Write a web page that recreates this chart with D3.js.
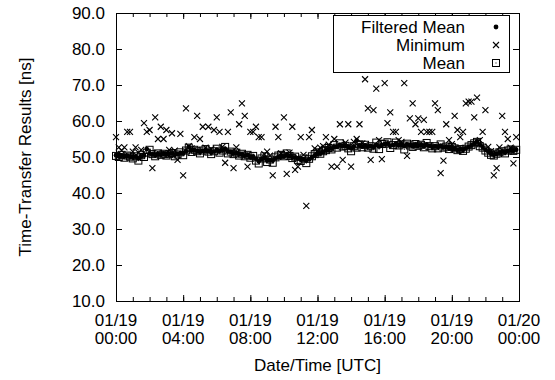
<!DOCTYPE html>
<html>
<head>
<meta charset="utf-8">
<script src="https://cdn.jsdelivr.net/npm/d3@7"></script>
<style>
  html, body { margin: 0; padding: 0; background: #fff; overflow: hidden; }
  svg { display: block; }
  text { font-family: "Liberation Sans", Arial, Helvetica, sans-serif; }
</style>
</head>
<body>
<div id="chart"></div>
<script>
// samples every 10 minutes over one UTC day (year isn't shown on the chart)
const startTime = "2014-01-19T00:00:00Z";
const stepMinutes = 10;

const filteredMean = [
  50.5, 50.3, 50.4, 50.2, 50.3, 50.1,  50.0, 50.1, 49.6, 50.2, 50.4, 52.2,
  51.0, 50.7, 50.5, 50.8, 50.7, 50.9,  50.7, 50.9, 51.0, 50.6, 50.8, 51.1,
  51.0, 51.6, 52.8, 51.8, 51.9, 51.7,  51.4, 51.7, 51.9, 51.6, 51.3, 51.5,
  52.0, 51.6, 51.8, 52.2, 51.5, 51.4,  51.0, 51.1, 50.8, 50.7, 50.4, 50.5,
  50.0, 50.1, 49.5, 48.8, 49.4, 49.8,  49.0, 49.2, 49.0, 49.6, 50.0, 50.3,
  50.2, 50.5, 50.2, 49.9, 49.9, 49.6,  49.3, 49.4, 49.0, 49.4, 49.9, 50.4,
  50.9, 51.0, 51.4, 51.8, 52.2, 52.3,  52.8, 52.8, 53.3, 53.0, 53.1, 52.8,
  52.4, 52.9, 54.6, 53.2, 52.9, 53.2,  52.9, 53.0, 52.8, 53.4, 52.9, 53.3,
  53.6, 53.8, 53.1, 53.3, 53.7, 53.3,  53.4, 53.1, 53.5, 53.3, 53.0, 53.4,
  53.2, 53.3, 53.0, 53.5, 53.1, 52.8,  53.0, 52.8, 53.1, 52.7, 52.8, 52.5,
  52.5, 52.3, 52.0, 52.1, 52.0, 52.4,  52.8, 53.2, 53.7, 54.3, 53.4, 52.8,
  52.0, 51.5, 50.9, 50.6, 50.9, 51.2,  51.5, 51.3, 51.7, 51.9, 51.8, 52.0
];

const minimum = [
  55.5, 52.7, 51.8, 52.7, 57.0, 57.0,  51.5, 52.7, 51.2, 52.0, 59.4, 57.0,
  57.5, 46.9, 61.0, 55.0, 58.4, 55.0,  57.5, 52.0, 56.6, 51.8, 49.2, 56.4,
  44.9, 63.5, 53.0, 52.4, 55.5, 61.4,  55.0, 58.4, 52.6, 58.4, 52.2, 57.5,
  61.0, 57.0, 52.8, 48.4, 57.0, 62.4,  46.9, 52.7, 59.1, 64.9, 61.4, 47.3,
  57.0, 57.0, 58.4, 55.5, 55.5, 50.8,  51.5, 50.4, 44.9, 58.4, 55.5, 51.0,
  61.0, 45.3, 51.2, 58.4, 46.4, 47.3,  55.5, 50.6, 36.4, 55.5, 57.5, 52.4,
  51.8, 52.6, 53.0, 55.5, 53.4, 47.3,  55.0, 47.3, 59.1, 49.2, 54.0, 59.1,
  47.3, 54.2, 55.0, 59.1, 53.8, 71.6,  63.5, 49.2, 63.0, 69.0, 54.7, 49.4,
  70.5, 59.4, 62.4, 57.0, 57.0, 54.7,  54.2, 70.5, 50.3, 60.7, 64.9, 59.1,
  60.7, 57.0, 60.3, 57.0, 57.0, 57.0,  64.9, 63.0, 45.5, 49.0, 59.1, 54.7,
  53.6, 61.4, 57.5, 55.5, 57.0, 64.9,  65.4, 65.4, 61.0, 66.5, 54.7, 57.0,
  63.0, 52.8, 51.6, 44.9, 46.9, 52.7,  61.4, 57.0, 55.0, 52.6, 48.2, 55.5
];

const mean = [
  50.3, 50.0, 50.6, 49.8, 50.4, 50.1,  49.6, 50.2, 49.0, 50.5, 50.0, 51.2,
  52.0, 50.8, 50.2, 51.0, 50.6, 50.9,  50.4, 50.8, 51.1, 50.2, 50.7, 51.3,
  50.5, 51.8, 52.6, 51.4, 52.0, 51.6,  51.0, 51.8, 52.2, 51.5, 50.8, 51.6,
  52.3, 51.2, 51.8, 52.8, 51.0, 51.5,  50.8, 51.2, 50.4, 50.9, 50.2, 50.6,
  49.8, 50.3, 49.0, 48.2, 49.6, 50.2,  48.6, 49.3, 48.4, 49.9, 50.4, 50.6,
  50.2, 51.0, 50.3, 49.7, 50.1, 49.2,  48.9, 49.6, 48.3, 49.5, 50.2, 50.8,
  51.3, 50.9, 51.6, 51.9, 52.5, 52.1,  53.3, 52.6, 53.8, 52.9, 53.1, 52.4,
  51.6, 53.0, 52.6, 53.5, 52.7, 53.4,  52.6, 53.0, 52.3, 54.0, 52.2, 53.6,
  53.7, 54.1, 52.5, 53.3, 54.0, 53.2,  53.5, 52.1, 53.7, 53.2, 52.8, 53.6,
  53.1, 53.4, 52.7, 53.9, 53.0, 52.4,  53.0, 52.4, 53.5, 52.6, 52.9, 52.2,
  52.8, 52.4, 51.9, 52.2, 51.7, 52.3,  52.9, 53.3, 53.8, 54.2, 53.0, 52.6,
  51.8, 51.2, 50.6, 50.4, 50.9, 51.3,  51.6, 51.0, 51.8, 52.1, 51.7, 52.0
];

const yTicks = [10, 20, 30, 40, 50, 60, 70, 80, 90];
const seriesNames = ["Filtered Mean", "Minimum", "Mean"];
const xLabel = "Date/Time [UTC]";
const yLabel = "Time-Transfer Results [ns]";

const width = 555, height = 380;
const margin = { top: 13, right: 36, bottom: 79, left: 116 };
const innerWidth = width - margin.left - margin.right;
const innerHeight = height - margin.top - margin.bottom;
const fontSize = 17;

const t0 = new Date(startTime);
const t1 = d3.utcDay.offset(t0, 1);
const times = mean.map((d, i) => d3.utcMinute.offset(t0, i * stepMinutes));

const svg = d3.select("#chart").append("svg")
  .attr("width", width)
  .attr("height", height);

const g = svg.append("g")
  .attr("transform", `translate(${margin.left},${margin.top})`);

const xScale = d3.scaleUtc().domain([t0, t1]).range([0, innerWidth]);
const yScale = d3.scaleLinear().domain([10, 90]).range([innerHeight, 0]);

// axes, gnuplot style: ticks pointing in, mirrored on all sides
const styleAxis = (sel, keepText) => {
  sel.attr("font-size", fontSize).attr("font-family", null);
  sel.select(".domain").remove();
  sel.selectAll(".tick line").attr("stroke", "#000");
  if (keepText) sel.selectAll(".tick text").attr("fill", "#000");
  else sel.selectAll(".tick text").remove();
};

g.append("g")
  .call(d3.axisLeft(yScale).tickValues(yTicks).tickSize(-6).tickPadding(11)
    .tickFormat(d3.format(".1f")))
  .call(styleAxis, true);

g.append("g")
  .attr("transform", `translate(${innerWidth},0)`)
  .call(d3.axisRight(yScale).tickValues(yTicks).tickSize(-6))
  .call(styleAxis, false);

g.append("g")
  .attr("transform", `translate(0,${innerHeight})`)
  .call(d3.axisBottom(xScale).ticks(d3.utcHour.every(1)).tickSize(-4))
  .call(styleAxis, false);

g.append("g")
  .call(d3.axisTop(xScale).ticks(d3.utcHour.every(1)).tickSize(-4))
  .call(styleAxis, false);

g.append("g")
  .call(d3.axisTop(xScale).ticks(d3.utcHour.every(4)).tickSize(-6))
  .call(styleAxis, false);

const xAxis = d3.axisBottom(xScale).ticks(d3.utcHour.every(4)).tickSize(-6);
g.append("g")
  .attr("transform", `translate(0,${innerHeight})`)
  .call(xAxis)
  .call(styleAxis, false);

// two-line date/time tick labels
const fmtDay = d3.utcFormat("%m/%d");
const fmtTime = d3.utcFormat("%H:%M");
const xTickValues = xScale.ticks(d3.utcHour.every(4));
const xLabels = g.append("g").attr("font-size", fontSize).attr("text-anchor", "middle");
xLabels.selectAll("text.day").data(xTickValues).enter().append("text")
  .attr("class", "day")
  .attr("x", d => xScale(d))
  .attr("y", innerHeight + 25)
  .text(fmtDay);
xLabels.selectAll("text.time").data(xTickValues).enter().append("text")
  .attr("class", "time")
  .attr("x", d => xScale(d))
  .attr("y", innerHeight + 43)
  .text(fmtTime);

g.append("rect")
  .attr("x", 0.5).attr("y", 0.5)
  .attr("width", innerWidth).attr("height", innerHeight)
  .attr("fill", "none").attr("stroke", "#000");

// axis titles
g.append("text")
  .attr("x", innerWidth / 2)
  .attr("y", innerHeight + 70)
  .attr("text-anchor", "middle")
  .attr("font-size", fontSize)
  .text(xLabel);

svg.append("text")
  .attr("transform", `translate(31,${margin.top + innerHeight / 2}) rotate(-90)`)
  .attr("text-anchor", "middle")
  .attr("font-size", fontSize)
  .text(yLabel);

// marks
const crossPath = "M-3,-3L3,3M-3,3L3,-3";
const drawDot = (sel) => sel.append("circle").attr("r", 2.4).attr("fill", "#000");
const drawCross = (sel) => sel.append("path").attr("d", crossPath)
  .attr("stroke", "#000").attr("stroke-width", 1.1).attr("fill", "none");
const drawBox = (sel) => {
  sel.append("rect").attr("x", -3.5).attr("y", -3.5).attr("width", 7).attr("height", 7)
    .attr("fill", "none").attr("stroke", "#000").attr("stroke-width", 1);
  sel.append("rect").attr("x", -0.5).attr("y", -0.5).attr("width", 1).attr("height", 1)
    .attr("fill", "#000");
};

const plotSeries = (values, draw) => {
  g.append("g").selectAll("g").data(values).enter().append("g")
    .attr("transform", (d, i) => `translate(${xScale(times[i])},${yScale(d)})`)
    .each(function () { draw(d3.select(this)); });
};

plotSeries(filteredMean, drawDot);
plotSeries(minimum, drawCross);
plotSeries(mean, drawBox);

// legend
const legend = svg.append("g");
legend.append("rect")
  .attr("x", 333.5).attr("y", 15.5)
  .attr("width", 176).attr("height", 57)
  .attr("fill", "#fff").attr("stroke", "#000");

const drawers = [drawDot, drawCross, drawBox];
seriesNames.forEach((name, i) => {
  const baseline = 33 + i * 18;
  legend.append("text")
    .attr("x", 465).attr("y", baseline)
    .attr("text-anchor", "end")
    .attr("font-size", fontSize)
    .text(name);
  const s = legend.append("g").attr("transform", `translate(496,${baseline - 6})`);
  drawers[i](s);
});
</script>
</body>
</html>
